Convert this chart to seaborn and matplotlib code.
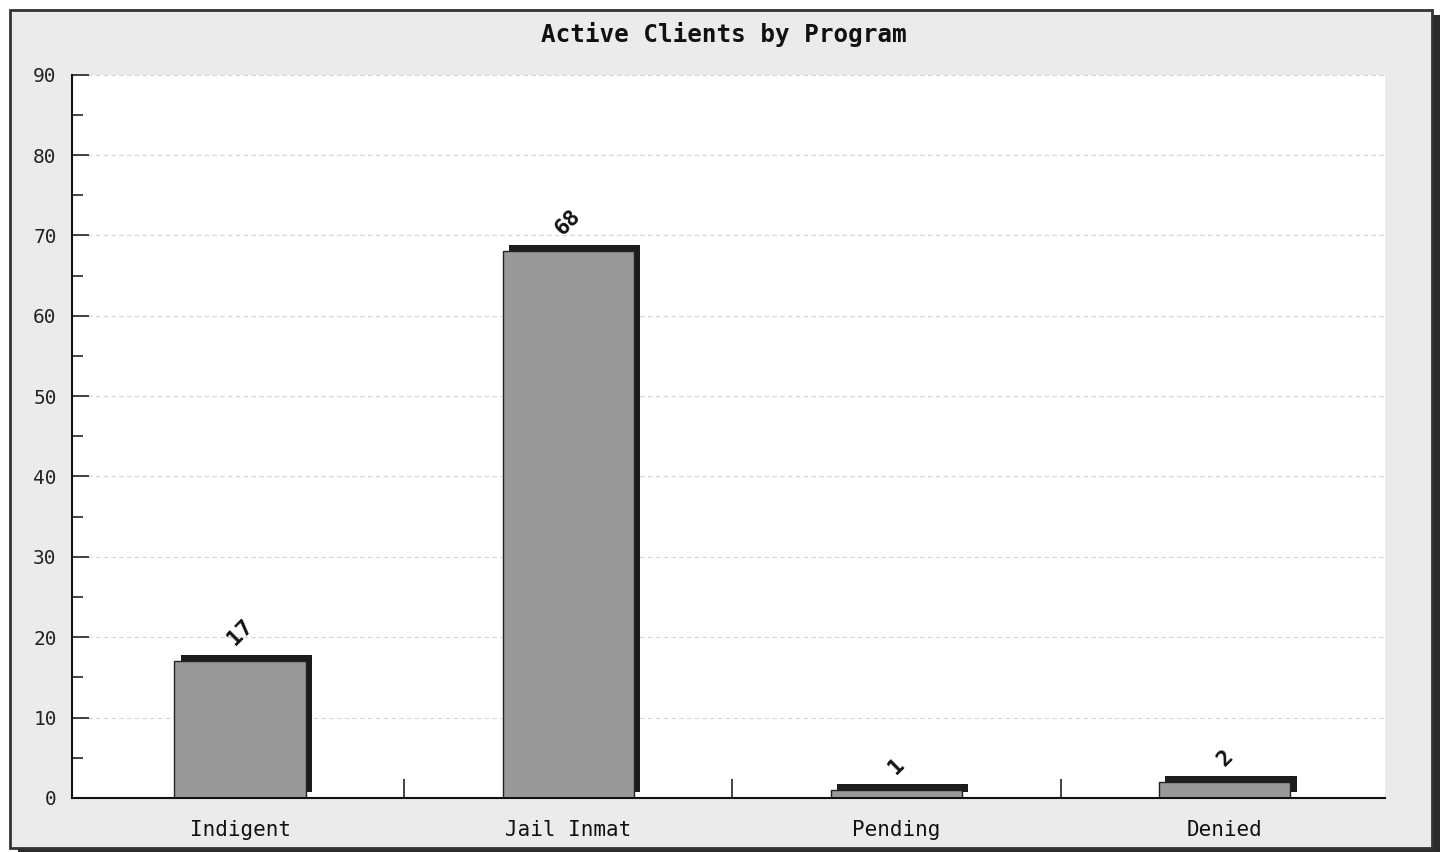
import matplotlib.pyplot as plt
import matplotlib.patheffects as pe
from matplotlib.patches import Rectangle
from matplotlib.ticker import MultipleLocator, FixedLocator
import pandas as pd
import seaborn as sns

# chart data
programs = ["Indigent", "Jail Inmat", "Pending", "Denied"]
active_clients = [17, 68, 1, 2]
y_ticks = list(range(0, 100, 10))

df = pd.DataFrame({"Program": programs, "Clients": active_clients})

sns.set_theme(style="white")
plt.rcParams["font.family"] = ["DejaVu Sans Mono"]

fig = plt.figure(figsize=(14.48, 8.52), dpi=100, facecolor="white")

# gray panel with a drop shadow, like the old report chart
fig.patches.append(Rectangle((0.0124, 0.0), 0.982, 0.982, transform=fig.transFigure,
                             facecolor="#2b2b2b", edgecolor="none", zorder=-3))
fig.patches.append(Rectangle((0.0069, 0.0047), 0.982, 0.983, transform=fig.transFigure,
                             facecolor="#ebebeb", edgecolor="#333333", linewidth=2, zorder=-2))

ax = fig.add_axes([0.0497, 0.0634, 0.9068, 0.849])
ax.set_facecolor("white")

sns.barplot(data=df, x="Program", y="Clients", color="#999999", saturation=1,
            edgecolor="#222222", linewidth=1, width=0.4, ax=ax)

# fake 3D depth
for bar in ax.patches:
    bar.set_path_effects([pe.SimplePatchShadow(offset=(4.5, 4.5), shadow_rgbFace="#1c1c1c", alpha=1),
                          pe.Normal()])

ax.bar_label(ax.containers[0], labels=[str(v) for v in active_clients], rotation=45,
             fontsize=16, fontweight="heavy", padding=9, color="#111111")

ax.set_xlim(-0.512, 3.488)
ax.set_ylim(0, 90)
ax.set_yticks(y_ticks)
ax.yaxis.set_minor_locator(MultipleLocator(5))
ax.xaxis.set_minor_locator(FixedLocator([0.5, 1.5, 2.5]))
ax.yaxis.grid(True, linestyle=(0, (4, 3)), color="#d4d4d4", linewidth=0.8)
ax.set_axisbelow(True)

ax.tick_params(axis="y", which="major", direction="in", length=12, width=1.2, color="#222222",
               labelsize=14, pad=11, labelcolor="#222222", left=True)
ax.tick_params(axis="y", which="minor", direction="in", length=8, width=1.2, color="#222222", left=True)
ax.tick_params(axis="x", which="major", length=0, labelsize=15, pad=16, labelcolor="#111111")
ax.tick_params(axis="x", which="minor", direction="in", length=14, width=1.2, color="#222222", bottom=True)

for side in ["top", "right"]:
    ax.spines[side].set_visible(False)
for side in ["left", "bottom"]:
    ax.spines[side].set_color("#111111")
    ax.spines[side].set_linewidth(1.5)

ax.set_xlabel("")
ax.set_ylabel("")
fig.text(0.5, 0.959, "Active Clients by Program", ha="center", va="center",
         fontsize=17.5, fontweight="bold", color="#111111")

fig.savefig("out.png", dpi=100, facecolor=fig.get_facecolor())
